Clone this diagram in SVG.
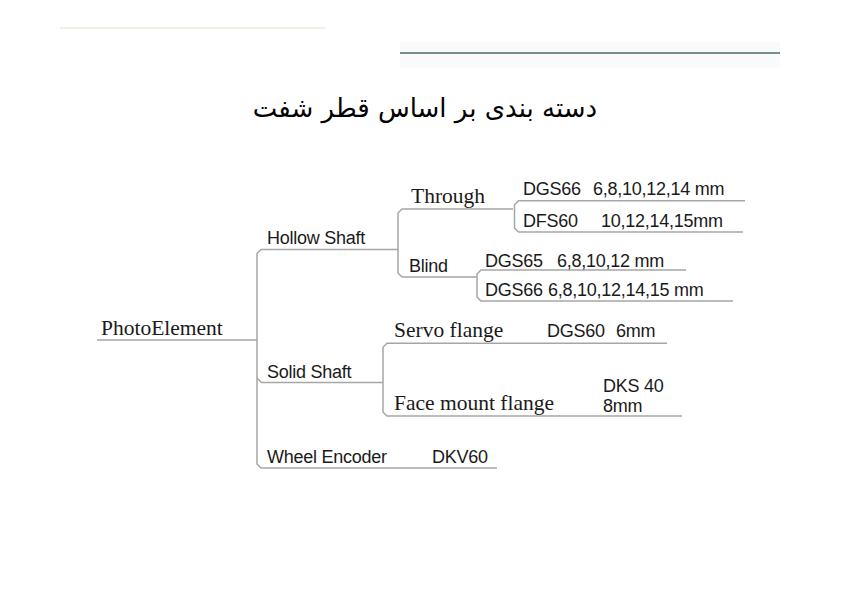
<svg xmlns="http://www.w3.org/2000/svg" width="842" height="595" viewBox="0 0 842 595">
<style>
.bg{fill:#ffffff}
.serif{font-family:"Liberation Serif","Times New Roman",serif;font-size:21.5px;fill:#1a1a1a}
.sans{font-family:"Liberation Sans",Arial,sans-serif;font-size:18px;fill:#1a1a1a;letter-spacing:-0.25px}
.title{font-family:"DejaVu Sans","Noto Sans",sans-serif;font-size:26px;fill:#000}
.conn{fill:none;stroke:#a6a6a6;stroke-width:1.5}
</style>
<rect class="bg" x="0" y="0" width="842" height="595"/>
<g id="decor">
<rect x="400" y="42" width="380" height="26" fill="#f8fafb"/>
<line x1="400" y1="53" x2="780" y2="53" stroke="#4f6a66" stroke-width="1.5"/>
<line x1="60" y1="28" x2="325" y2="28" stroke="#eef2e6" stroke-width="2"/>
</g>
<g id="title">
<text class="title" x="425" y="117" text-anchor="middle" direction="rtl">دسته بندی بر اساس قطر شفت</text>
</g>
<g id="connectors">
<path class="conn" d="M97,340 H257"/>
<path class="conn" d="M398,249.5 H261 L257,253.5 V464 L261,468 H497"/>
<path class="conn" d="M257,378 L261.5,382.5 H383"/>
<path class="conn" d="M513,209 H402 L398,213 V273 L402,277 H477"/>
<path class="conn" d="M745,200.7 H518.5 L514.5,204.7 V228 L518.5,232 H743"/>
<path class="conn" d="M686,270 H481 L477,274 V297 L481,301 H733"/>
<path class="conn" d="M667,343.3 H387 L383,347.3 V412 L387,416 H682"/>
</g>
<g id="photoelement"><text class="serif" x="101" y="335">PhotoElement</text></g>
<g id="hollow-shaft"><text class="sans" x="267" y="244">Hollow Shaft</text></g>
<g id="through"><text class="serif" x="411" y="203">Through</text></g>
<g id="dgs66-through"><text class="sans" y="195"><tspan x="523">DGS66</tspan><tspan x="593">6,8,10,12,14 mm</tspan></text></g>
<g id="dfs60"><text class="sans" y="227"><tspan x="523">DFS60</tspan><tspan x="601">10,12,14,15mm</tspan></text></g>
<g id="blind"><text class="sans" x="409" y="272">Blind</text></g>
<g id="dgs65"><text class="sans" y="266.5"><tspan x="485">DGS65</tspan><tspan x="557">6,8,10,12 mm</tspan></text></g>
<g id="dgs66-blind"><text class="sans" y="295.5"><tspan x="485">DGS66</tspan><tspan x="548">6,8,10,12,14,15 mm</tspan></text></g>
<g id="solid-shaft"><text class="sans" x="267" y="378">Solid Shaft</text></g>
<g id="servo-flange"><text class="serif" x="394" y="337">Servo flange</text><text class="sans" y="337"><tspan x="547">DGS60</tspan><tspan x="616">6mm</tspan></text></g>
<g id="face-mount-flange"><text class="serif" x="394" y="410">Face mount flange</text><text class="sans" x="603" y="392">DKS 40</text><text class="sans" x="603" y="412">8mm</text></g>
<g id="wheel-encoder"><text class="sans" x="267" y="463">Wheel Encoder</text><text class="sans" x="432" y="463">DKV60</text></g>
</svg>
